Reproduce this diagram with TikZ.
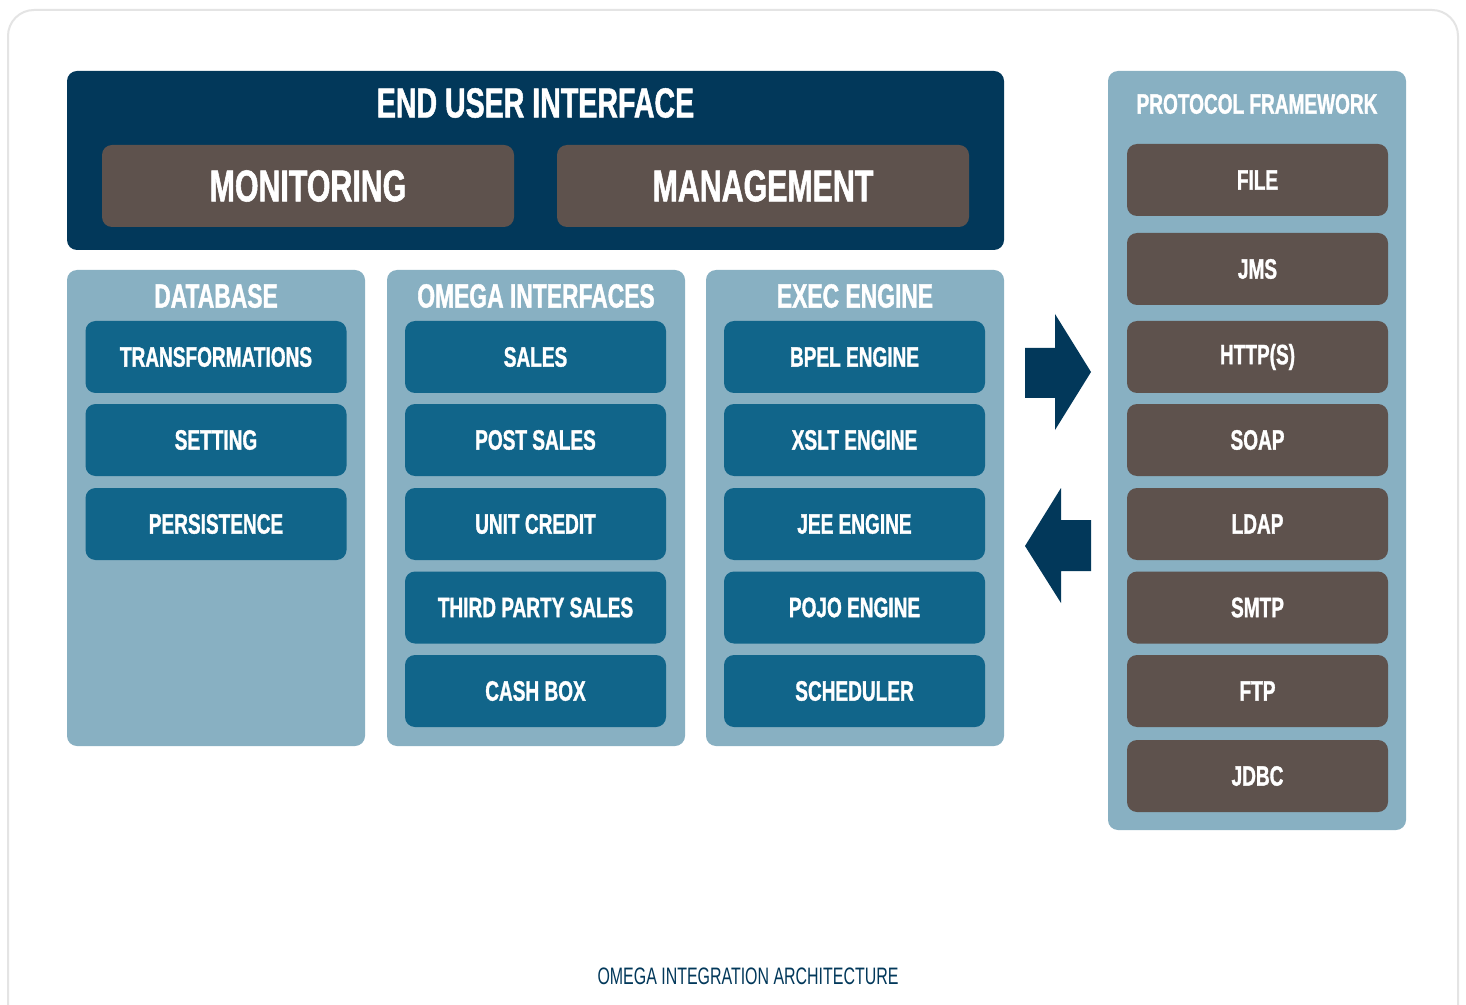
\documentclass[tikz,border=0pt]{standalone}
\usepackage{fontspec}
\setmainfont{Liberation Sans}[FakeStretch=0.67]
\newfontfamily\heavy{Liberation Sans Bold}[FakeStretch=0.68, FakeBold=1.2]
\definecolor{navy}{HTML}{02385A}
\definecolor{brownbox}{HTML}{5E524D}
\definecolor{lightblue}{HTML}{88B0C2}
\definecolor{tealbox}{HTML}{11658A}
\definecolor{frame}{HTML}{E4E4E4}
\tikzset{
  container/.style={fill=lightblue, draw=none, rounded corners=5pt, inner sep=0pt},
  topbox/.style={fill=navy, draw=none, rounded corners=5pt, inner sep=0pt, minimum width=468.5pt, minimum height=89.5pt},
  bigbrown/.style={fill=brownbox, draw=none, rounded corners=5pt, inner sep=0pt, minimum width=206pt, minimum height=41pt, text=white, font=\heavy\fontsize{22.3}{24}\selectfont},
  itembox/.style={fill=tealbox, draw=none, rounded corners=5pt, inner sep=0pt, minimum width=130.5pt, minimum height=36pt, text=white, font=\heavy\fontsize{14}{16}\selectfont},
  protobox/.style={itembox, fill=brownbox},
  coltitle/.style={text=white, font=\heavy\fontsize{16.8}{18}\selectfont, inner sep=0pt},
  bigarrow/.style={fill=navy, draw=none},
}
\begin{document}
\begin{tikzpicture}[x=0.5pt, y=-0.5pt]
\useasboundingbox (0,0) rectangle (1466,1005);
\clip (0,0) rectangle (1466,1005);
\fill[white] (0,0) rectangle (1466,1005);
\draw[frame, line width=1pt, rounded corners=13pt] (8,10) rectangle (1458,1040);

% End user interface
\node[topbox] (eui) at (535.5,160.5) {};
\node[text=white, font=\heavy\fontsize{21}{23}\selectfont, inner sep=0pt] (euititle) at (535.5,103) {END USER INTERFACE};
\node[bigbrown] (mon) at (308,186) {MONITORING};
\node[bigbrown] (mgmt) at (763,186) {MANAGEMENT};

% Columns
\node[container, minimum width=149pt, minimum height=238pt] (db) at (216,508) {};
\node[container, minimum width=149pt, minimum height=238pt] (oi) at (536,508) {};
\node[container, minimum width=149pt, minimum height=238pt] (ee) at (855,508) {};
\node[coltitle] (dbt) at (216,296) {DATABASE};
\node[coltitle] (oit) at (536,296) {OMEGA INTERFACES};
\node[coltitle] (eet) at (855,296) {EXEC ENGINE};

\node[itembox] (db1) at (216,357) {TRANSFORMATIONS};
\node[itembox] (db2) at (216,440) {SETTING};
\node[itembox] (db3) at (216,524) {PERSISTENCE};

\node[itembox] (oi1) at (535.5,357) {SALES};
\node[itembox] (oi2) at (535.5,440) {POST SALES};
\node[itembox] (oi3) at (535.5,524) {UNIT CREDIT};
\node[itembox] (oi4) at (535.5,607.5) {THIRD PARTY SALES};
\node[itembox] (oi5) at (535.5,691) {CASH BOX};

\node[itembox] (ee1) at (854.5,357) {BPEL ENGINE};
\node[itembox] (ee2) at (854.5,440) {XSLT ENGINE};
\node[itembox] (ee3) at (854.5,524) {JEE ENGINE};
\node[itembox] (ee4) at (854.5,607.5) {POJO ENGINE};
\node[itembox] (ee5) at (854.5,691) {SCHEDULER};

% Protocol framework
\node[container, minimum width=149pt, minimum height=379.5pt] (pf) at (1257,450.5) {};
\node[text=white, font=\heavy\fontsize{14}{16}\selectfont, inner sep=0pt] (pft) at (1257,104) {PROTOCOL FRAMEWORK};
\node[protobox] (p1) at (1257.5,180) {FILE};
\node[protobox] (p2) at (1257.5,269) {JMS};
\node[protobox] (p3) at (1257.5,357) {HTTP(S)};
\node[protobox] (p4) at (1257.5,440) {SOAP};
\node[protobox] (p5) at (1257.5,524) {LDAP};
\node[protobox] (p6) at (1257.5,607.5) {SMTP};
\node[protobox] (p7) at (1257.5,691) {FTP};
\node[protobox] (p8) at (1257.5,776) {JDBC};

% Arrows
\fill[bigarrow] (1025,348) -- (1055,348) -- (1055,314) -- (1091,372) -- (1055,430) -- (1055,398) -- (1025,398) -- cycle;
\fill[bigarrow] (1091,520) -- (1061,520) -- (1061,488) -- (1025,546) -- (1061,603) -- (1061,571) -- (1091,571) -- cycle;

% Caption
\node[text=navy, font=\fontsize{11.9}{13}\selectfont, inner sep=0pt] (caption) at (748,976) {OMEGA INTEGRATION ARCHITECTURE};
\end{tikzpicture}
\end{document}
